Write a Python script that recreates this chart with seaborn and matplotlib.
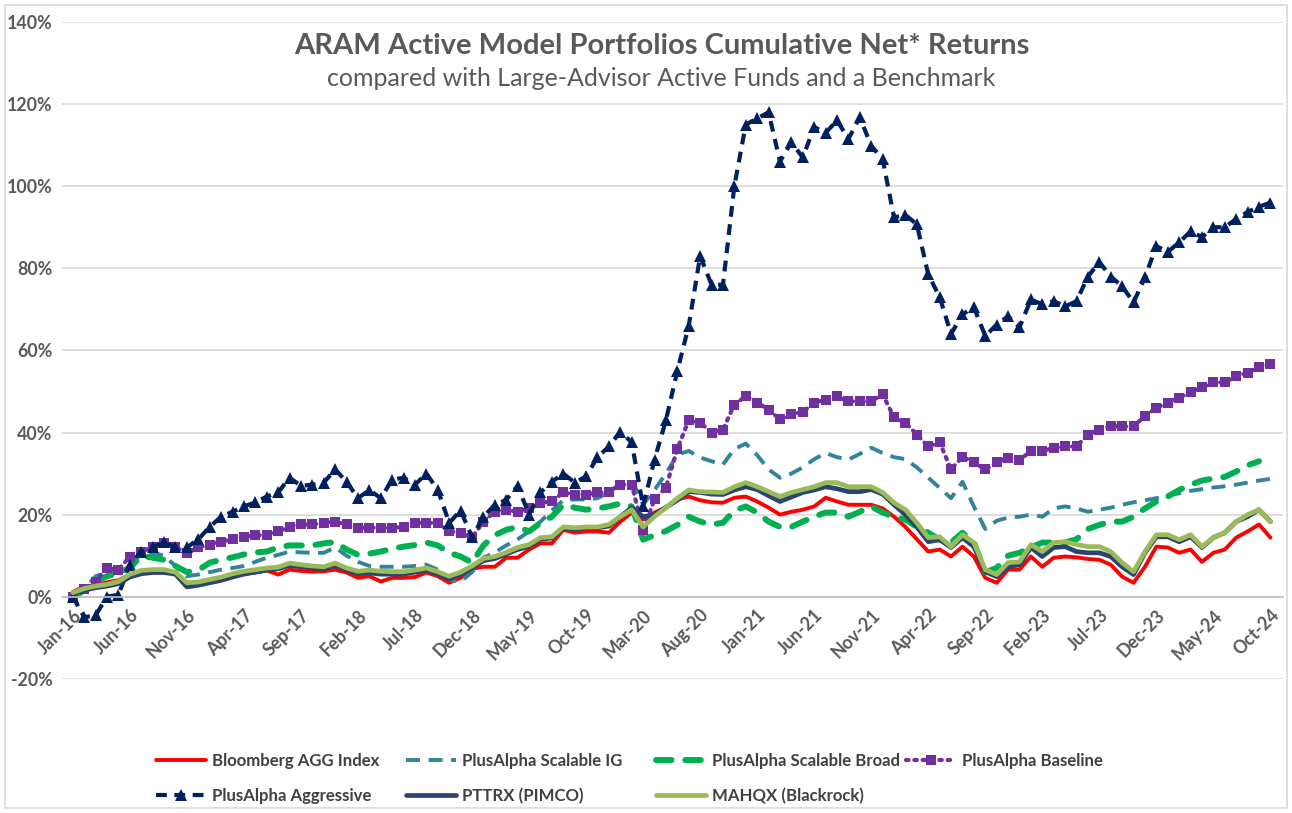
import matplotlib
matplotlib.use("Agg")
import matplotlib.pyplot as plt
import numpy as np
import pandas as pd
import seaborn as sns
from matplotlib.patches import Rectangle

# Monthly cumulative net returns (%), Jan-16 .. Oct-24
months = pd.date_range("2016-01-01", periods=106, freq="MS")
month_labels = [m.strftime("%b-%y") for m in months]

bloomberg_agg = [
    1.2, 2.4, 2.8, 3.5, 4.0, 5.4, 5.9, 6.1, 6.1, 5.9,
    3.0, 3.4, 3.8, 4.3, 5.0, 5.6, 5.9, 6.4, 5.4, 6.6,
    6.3, 6.1, 6.2, 6.6, 5.9, 4.6, 5.0, 3.7, 4.6, 4.6,
    4.8, 5.9, 5.0, 3.4, 4.6, 6.8, 7.3, 7.3, 9.5, 9.5,
    11.5, 13.0, 13.0, 16.3, 15.6, 15.9, 15.9, 15.6, 18.3, 20.5,
    18.8, 20.5, 21.7, 23.7, 24.4, 23.5, 23.0, 22.9, 24.1, 24.4,
    23.2, 21.7, 20.0, 20.7, 21.2, 22.0, 24.1, 23.2, 22.4, 22.4,
    22.4, 21.5, 19.5, 17.0, 14.0, 11.0, 11.5, 9.8, 12.2, 9.8,
    4.6, 3.4, 6.6, 6.6, 9.8, 7.3, 9.5, 9.8, 9.6, 9.2,
    9.0, 7.8, 4.9, 3.4, 7.3, 12.2, 12.0, 10.7, 11.5, 8.5,
    10.7, 11.5, 14.4, 15.9, 17.6, 14.4,
]
scalable_ig = [
    0.0, 2.0, 5.0, 6.0, 6.5, 9.0, 10.0, 10.7, 10.0, 7.5,
    5.0, 5.4, 6.0, 6.6, 7.0, 7.5, 8.5, 9.5, 10.2, 11.0,
    10.8, 10.7, 10.7, 12.0, 10.0, 8.5, 7.5, 7.3, 7.3, 7.3,
    7.5, 7.8, 6.6, 4.1, 3.7, 6.0, 9.5, 10.8, 12.5, 14.0,
    15.9, 18.3, 21.0, 23.5, 23.7, 23.7, 24.0, 25.4, 27.5, 28.5,
    22.5, 26.0, 30.0, 34.6, 35.5, 33.9, 33.0, 32.2, 36.0, 37.3,
    34.5, 31.0, 29.0, 30.0, 31.5, 33.5, 35.0, 34.0, 33.4, 34.8,
    36.3, 35.0, 34.0, 33.5, 31.5, 29.0, 26.5, 24.0, 28.0, 22.0,
    16.5, 18.5, 19.3, 19.5, 20.0, 19.5, 21.5, 22.0, 21.5, 20.7,
    21.2, 21.7, 22.4, 23.0, 23.5, 24.0, 24.7, 25.2, 25.8, 26.2,
    26.6, 26.9, 27.3, 27.8, 28.3, 28.7,
]
scalable_broad = [
    0.0, 1.5, 3.7, 5.0, 5.9, 7.0, 10.0, 9.5, 9.0, 7.5,
    6.0, 6.5, 8.3, 9.0, 9.6, 10.3, 10.8, 11.0, 12.0, 12.5,
    12.5, 12.5, 13.0, 13.3, 11.5, 10.2, 10.5, 11.0, 11.7, 12.2,
    12.6, 13.2, 12.5, 10.7, 9.8, 8.3, 12.5, 15.0, 16.3, 17.0,
    15.9, 18.0, 19.5, 22.4, 21.7, 21.2, 21.5, 22.0, 22.7, 22.0,
    13.9, 15.0, 16.0, 17.5, 19.5, 18.3, 17.6, 18.0, 21.0, 22.0,
    20.5, 18.3, 17.0, 17.0, 18.3, 19.5, 20.5, 20.5, 19.5, 20.7,
    22.0, 20.5, 19.5, 18.8, 17.0, 15.6, 13.9, 13.2, 15.6, 13.2,
    6.0, 7.0, 10.0, 10.7, 12.0, 13.2, 13.2, 13.2, 14.0, 16.5,
    17.5, 18.3, 18.3, 19.5, 21.5, 23.2, 24.4, 26.0, 27.3, 28.3,
    28.8, 29.2, 30.5, 32.0, 33.0, np.nan,
]
baseline = [
    0.0, 2.0, 3.7, 7.0, 6.6, 9.8, 11.0, 12.0, 13.0, 12.0,
    10.7, 12.0, 12.7, 13.4, 14.0, 14.6, 15.0, 15.0, 15.9, 17.0,
    17.6, 17.6, 18.0, 18.3, 17.6, 16.8, 16.8, 16.8, 16.8, 17.0,
    18.0, 18.0, 18.0, 15.9, 15.6, 14.4, 18.3, 20.7, 21.2, 20.7,
    21.7, 22.9, 23.2, 25.4, 24.9, 24.9, 25.4, 25.6, 27.3, 27.3,
    16.3, 23.7, 26.6, 36.0, 43.0, 42.4, 40.0, 40.7, 46.8, 48.8,
    47.3, 45.6, 43.2, 44.4, 45.0, 47.3, 48.0, 48.8, 47.6, 47.6,
    47.6, 49.3, 43.7, 42.4, 39.5, 36.6, 37.6, 31.0, 34.1, 32.7,
    31.0, 32.7, 33.9, 33.4, 35.4, 35.4, 36.3, 36.6, 36.6, 39.5,
    40.7, 41.5, 41.5, 41.5, 44.0, 46.0, 47.3, 48.5, 49.8, 51.0,
    52.2, 52.2, 53.7, 54.6, 55.9, 56.6,
]
aggressive = [
    0.0, -5.0, -4.5, 0.0, 0.5, 7.8, 11.0, 12.0, 13.4, 12.0,
    12.0, 14.0, 17.0, 19.5, 20.7, 22.0, 23.0, 24.4, 25.4, 29.0,
    27.0, 27.3, 27.8, 31.0, 28.0, 24.0, 26.0, 24.0, 28.5, 29.0,
    27.3, 30.0, 26.0, 18.0, 21.0, 14.5, 19.5, 22.4, 23.6, 27.0,
    20.0, 25.4, 28.0, 30.0, 27.8, 29.3, 34.0, 36.6, 40.2, 37.6,
    22.0, 33.4, 43.0, 55.0, 66.0, 83.0, 76.0, 76.0, 100.0, 115.0,
    116.5, 118.0, 106.0, 110.7, 107.0, 114.4, 113.0, 116.0, 111.5, 116.8,
    109.8, 106.6, 92.4, 93.0, 90.7, 78.5, 73.0, 64.0, 68.8, 70.5,
    63.5, 66.3, 68.3, 65.6, 72.4, 71.2, 72.0, 70.7, 72.0, 78.0,
    81.5, 78.0, 75.6, 71.7, 77.8, 85.4, 84.0, 86.3, 89.0, 87.6,
    90.0, 90.0, 92.0, 93.7, 95.0, 96.0,
]
pttrx = [
    0.8, 1.6, 2.2, 2.6, 3.2, 4.8, 5.6, 5.9, 5.9, 5.5,
    2.4, 2.8, 3.4, 4.0, 4.8, 5.5, 6.0, 6.5, 6.8, 7.6,
    7.3, 7.0, 6.8, 7.6, 6.5, 5.6, 5.8, 5.5, 5.5, 5.5,
    6.0, 6.5, 5.5, 4.3, 5.4, 7.0, 8.8, 9.3, 10.4, 11.5,
    12.3, 14.0, 14.3, 16.7, 16.5, 16.8, 16.8, 17.2, 19.5, 21.7,
    19.5, 20.0, 21.8, 23.5, 25.6, 25.4, 25.0, 24.9, 26.0, 26.8,
    26.1, 24.6, 23.2, 24.3, 25.4, 26.0, 26.8, 26.3, 25.6, 25.6,
    26.1, 25.0, 22.4, 20.0, 17.0, 13.4, 13.9, 12.0, 14.4, 12.2,
    6.1, 4.9, 7.3, 7.8, 12.0, 9.8, 12.0, 12.2, 11.0, 10.7,
    10.7, 9.8, 7.3, 5.4, 10.7, 14.6, 14.6, 13.4, 14.6, 12.0,
    14.4, 15.6, 18.3, 19.5, 21.2, 18.3,
]
mahqx = [
    1.0, 2.0, 2.6, 3.0, 3.7, 5.5, 6.4, 6.6, 6.6, 6.0,
    3.4, 3.6, 4.2, 4.8, 5.6, 6.2, 6.6, 7.0, 7.2, 8.2,
    7.8, 7.5, 7.3, 8.2, 7.0, 6.2, 6.5, 6.2, 6.1, 6.1,
    6.5, 7.0, 6.1, 5.0, 6.0, 7.5, 9.3, 9.8, 10.8, 12.0,
    12.7, 14.4, 14.6, 17.0, 16.8, 17.0, 17.0, 17.6, 19.5, 21.2,
    17.0, 19.5, 21.7, 24.0, 26.0, 25.6, 25.5, 25.4, 26.8, 27.8,
    26.8, 25.6, 24.4, 25.4, 26.1, 26.8, 27.8, 27.8, 26.8, 26.8,
    26.8, 25.4, 22.9, 21.2, 18.0, 14.4, 14.6, 12.2, 15.1, 13.2,
    6.6, 5.4, 8.3, 8.5, 12.7, 11.0, 13.2, 13.4, 12.7, 12.2,
    12.2, 11.0, 8.3, 6.1, 11.0, 15.1, 15.1, 13.9, 15.1, 12.2,
    14.4, 15.6, 18.3, 20.0, 21.2, 18.3,
]

series_names = [
    "Bloomberg AGG Index",
    "PlusAlpha Scalable IG",
    "PlusAlpha Scalable Broad",
    "PlusAlpha Baseline",
    "PlusAlpha Aggressive",
    "PTTRX (PIMCO)",
    "MAHQX (Blackrock)",
]
series_values = [bloomberg_agg, scalable_ig, scalable_broad, baseline,
                 aggressive, pttrx, mahqx]

# line styles roughly matching the Excel look
styles = {
    "Bloomberg AGG Index": dict(color="#FF0000", linewidth=2.8, linestyle="-"),
    "PlusAlpha Scalable IG": dict(color="#31849B", linewidth=2.8,
                                  linestyle=(0, (3.6, 2.2))),
    "PlusAlpha Scalable Broad": dict(color="#00B050", linewidth=4.3,
                                     linestyle=(0, (2.6, 2.3)),
                                     dash_capstyle="round"),
    "PlusAlpha Baseline": dict(color="#7030A0", linewidth=3.0,
                               linestyle=(0, (0.6, 1.4)), dash_capstyle="round",
                               marker="s", markersize=7, markeredgewidth=0),
    "PlusAlpha Aggressive": dict(color="#002060", linewidth=3.0,
                                 linestyle=(0, (2.6, 1.8)),
                                 marker="^", markersize=8.5, markeredgewidth=0),
    "PTTRX (PIMCO)": dict(color="#2B4470", linewidth=3.4, linestyle="-"),
    "MAHQX (Blackrock)": dict(color="#9BBB59", linewidth=3.4, linestyle="-"),
}

df = pd.DataFrame({"month": np.arange(len(months))})
for name, vals in zip(series_names, series_values):
    df[name] = vals

sns.set_theme(style="white")
plt.rcParams["font.family"] = ["Lato", "DejaVu Sans"]

fig = plt.figure(figsize=(12.92, 8.13), dpi=100)
ax = fig.add_axes([0.048, 0.165, 0.945, 0.808])

for name in series_names:
    sns.lineplot(data=df, x="month", y=name, ax=ax, label=name, **styles[name])

text_gray = "#595959"

# axes and grid
ax.set_ylim(-20, 140)
ax.set_xlim(-0.95, 106.1)
ax.set_yticks(np.arange(-20, 141, 20))
ax.set_yticklabels([f"{v}%" for v in range(-20, 141, 20)],
                   fontsize=12.8, fontweight="bold", color=text_gray)
ax.grid(axis="y", color="#D9D9D9", linewidth=1.2)
ax.set_axisbelow(True)
for side in ["top", "right", "left"]:
    ax.spines[side].set_visible(False)
ax.spines["bottom"].set_position(("data", 0))
ax.spines["bottom"].set_color("#BFBFBF")
ax.spines["bottom"].set_linewidth(1.2)

label_pos = np.arange(0, len(months), 5)
ax.set_xticks(label_pos)
ax.set_xticklabels([month_labels[i] for i in label_pos], rotation=45,
                   ha="right", rotation_mode="anchor",
                   fontsize=12.8, fontweight="bold", color=text_gray)
ax.set_xticks(label_pos - 0.5, minor=True)
ax.tick_params(axis="x", which="major", length=0, pad=7)
ax.tick_params(axis="x", which="minor", length=5, color="#BFBFBF", width=1.2,
               direction="out")
ax.tick_params(axis="y", length=0, pad=7)
ax.set_xlabel("")
ax.set_ylabel("")

# titles
fig.text(0.512, 0.944, "ARAM Active Model Portfolios Cumulative Net* Returns",
         ha="center", va="center", fontsize=21, fontweight="bold",
         color=text_gray)
fig.text(0.512, 0.903, "compared with Large-Advisor Active Funds and a Benchmark",
         ha="center", va="center", fontsize=18, color=text_gray)

# legend at the bottom: four equal-width columns like Excel
handles, labels = ax.get_legend_handles_labels()
ax.get_legend().remove()
lookup = dict(zip(labels, handles))
legend_columns = [
    ["Bloomberg AGG Index", "PlusAlpha Aggressive"],
    ["PlusAlpha Scalable IG", "PTTRX (PIMCO)"],
    ["PlusAlpha Scalable Broad", "MAHQX (Blackrock)"],
    ["PlusAlpha Baseline"],
]
col_x = [156, 406, 656, 906]
for x0, col in zip(col_x, legend_columns):
    fig.legend([lookup[n] for n in col], col, loc="upper left",
               bbox_to_anchor=(x0 / 1292, 1 - 753 / 813), frameon=False,
               borderpad=0, borderaxespad=0, handlelength=3.0,
               handletextpad=0.35, labelspacing=1.12, numpoints=1,
               prop={"size": 12.1, "weight": "bold"}, labelcolor="#404040")

# chart border
fig.patches.append(Rectangle((0.004, 0.006), 0.992, 0.988, transform=fig.transFigure,
                             fill=False, edgecolor="#D9D9D9", linewidth=1.2))

fig.savefig("out.png", dpi=100)
